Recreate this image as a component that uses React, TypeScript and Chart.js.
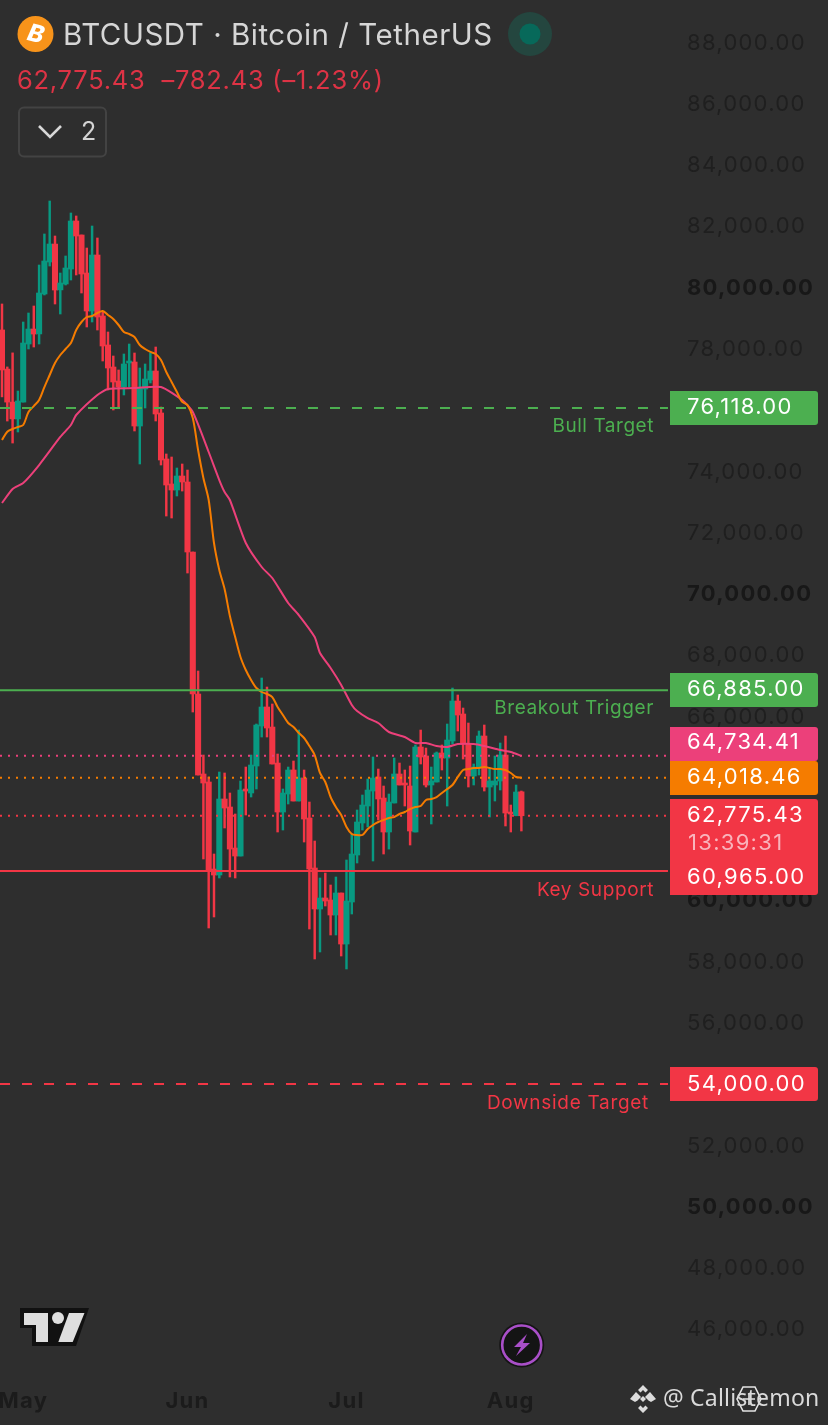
import React, { useEffect, useRef } from "react";
import { Chart, registerables } from "chart.js";

Chart.register(...registerables);

// Daily candles, May to early Aug (day 4 = 1 May, day 35 = 1 Jun, day 65 = 1 Jul, day 96 = 1 Aug)
const opens = [78670,77390,76310,75760,76310,78210,78700,78540,79846,80893,81480,79980,80174,80664,82235,81777,80533,79290,81122,79127,78178,77458,77000,76803,77589,77621,75527,76738,77032,77327,75953,74448,73630,73433,73891,73695,71405,66758,64141,63879,61032,60836,63323,63061,61719,61457,63650,63519,64402,65711,66333,65678,64500,62897,63486,64272,63257,64010,62701,61065,59724,60084,60018,59527,60247,58578,59952,61490,62537,63093,63584,64043,63355,62243,63192,64141,63846,63748,62243,65024,64730,63781,63879,64828,64664,65220,66529,66104,65122,64075,64369,65384,63715,63781,63912,64762,62897,62775,63558];
const highs = [79520,77460,77920,76672,78930,79225,79454,80795,81810,82889,81744,80533,81090,82497,82399,81777,81351,82071,81679,79258,78603,77818,77360,77883,78210,77916,77425,77556,77916,78112,76149,74612,74513,74153,74284,74087,71405,67511,64762,64043,61523,64206,64174,63519,62832,63912,64369,64762,65777,67282,66987,66431,64795,63650,64369,64566,65580,64272,63224,61948,60738,60901,60509,60771,60247,61327,62177,62963,63453,63977,64697,64304,63748,63486,64664,64500,64272,64402,65090,65580,64991,64369,64861,65090,65777,66954,66726,66300,65809,64468,65548,65744,64337,64730,65155,65384,63126,63781,63584];
const lows = [76480,75690,74970,75331,76310,78047,78112,78210,79814,80762,79519,79192,80141,80304,80468,79879,78767,78930,78668,77654,76705,76051,76116,76542,76803,75364,74284,76116,76934,75691,74251,72582,72517,73237,73400,70717,66169,64108,61360,59102,59462,60738,62374,60771,60738,61457,62799,63388,63650,65351,65351,64468,62243,62308,63159,63257,63257,61915,59069,58088,58317,59822,58873,58873,58186,57761,59560,61229,62308,62407,61294,62636,61523,61685,63192,63781,63093,61817,62243,64468,63715,62505,63879,64272,63093,65122,65548,64631,63715,63781,64108,63584,62734,63257,63617,62440,62243,62775,62276];
const closes = [77360,76310,75760,76345,78243,78701,78537,79879,80926,81482,79977,80206,80697,82235,81744,80501,79290,81122,79094,78145,77425,76967,76803,77556,77654,75527,76770,77065,77327,75920,74415,73597,73433,73891,73695,71405,66758,64108,63846,60999,60836,63323,63028,61685,61457,63617,63584,64435,65744,66333,65646,64468,62897,63519,64272,63257,64010,62668,61032,59724,60084,59985,59527,60247,58578,59985,61523,62570,63126,63617,64010,63323,62243,63224,64141,63781,63781,62276,65024,64697,63781,63912,64828,64664,65253,66529,66071,65122,64075,64369,65384,63715,63912,63912,64762,62865,62832,63551,62775];

const orangeMA = [75070,75340,75430,75495,75560,75985,76180,76378,76800,77196,77590,77850,78047,78243,78670,78930,79094,79127,79225,79290,79160,79030,78832,78603,78537,78440,78178,78047,77950,77883,77687,77294,76967,76640,76313,76215,75789,74742,73826,73106,71700,70816,70194,69310,68623,67969,67543,67216,66954,66824,66758,66660,66333,66071,65809,65678,65482,65319,65057,64762,64174,63879,63388,63061,62799,62407,62177,62145,62145,62341,62472,62570,62636,62701,62734,62832,62897,62995,63061,63093,63290,63323,63388,63519,63650,63781,64043,64272,64304,64337,64337,64369,64337,64304,64304,64272,64174,64043,64018];
const pinkDays = [0,2,4,7,11,13,14,18,20,25,30,34,36,39,41,42,43,46,49,51,54,56,59,60,62,64,66,67,69,71,73,76,78,80,82,84,86,89,91,94,96,98];
const pinkMA = [73008,73466,73662,74251,75168,75560,75887,76542,76738,76770,76803,76378,75985,74677,73760,73368,73106,71700,70914,70554,69736,69343,68623,68100,67609,67053,66399,66203,65973,65809,65515,65351,65155,65155,65057,65024,65122,65122,65057,64926,64861,64734];

const priceTicks = [88000,86000,84000,82000,80000,78000,76000,74000,72000,70000,68000,66000,64000,62000,60000,58000,56000,54000,52000,50000,48000,46000];
const roundTicks = [80000,70000,60000,50000];
const monthDays = [4,35,65,96];
const monthNames = ["May","Jun","Jul","Aug"];

const bullTarget = 76118;
const breakoutTrigger = 66885;
const keySupport = 60965;
const downsideTarget = 54000;
const lastPrice = 62775.43;
const pinkLast = 64734.41;
const orangeLast = 64018.46;

const UP = "#089981";
const DOWN = "#F23645";
const GREEN = "#4CAF50";
const PINK = "#EC407A";
const ORANGE = "#F57C00";
const BG = "#2E2E2E";
const FONT = "Inter, 'Noto Sans', sans-serif";

const X_MIN = -0.377;
const X_MAX = 126.04;
const LINE_END = 125.66;

const fmt = (v: number) =>
  v.toLocaleString("en-US", { minimumFractionDigits: 2, maximumFractionDigits: 2 });

const hline = (value: number, color: string, dash: number[]) => ({
  type: "line" as const,
  data: [{ x: X_MIN, y: value }, { x: LINE_END, y: value }],
  borderColor: color,
  borderWidth: 2,
  borderDash: dash,
  pointRadius: 0,
  order: 0,
  yAxisID: "y",
});

const overlay: any = {
  id: "overlay",
  beforeDraw(chart: any) {
    chart.ctx.letterSpacing = "1.3px";
  },
  afterDraw(chart: any) {
    const ctx = chart.ctx;
    const badge = (top: number, bottom: number, color: string) => {
      ctx.fillStyle = color;
      ctx.beginPath();
      ctx.roundRect(670, top, 148, bottom - top, [0, 3, 3, 0]);
      ctx.fill();
    };
    const text = (s: string, x: number, y: number, color: string, font: string, align: CanvasTextAlign, spacing: string) => {
      ctx.save();
      ctx.fillStyle = color;
      ctx.font = font;
      ctx.textAlign = align;
      ctx.textBaseline = "middle";
      ctx.letterSpacing = spacing;
      ctx.fillText(s, x, y);
      ctx.restore();
    };
    const priceFont = `22px ${FONT}`;
    const noteFont = `19px ${FONT}`;
    badge(391, 425, GREEN);
    badge(673, 707, GREEN);
    badge(727, 761, PINK);
    badge(761, 795, ORANGE);
    badge(799, 895, DOWN);
    badge(1067, 1101, DOWN);
    const rows: [number, number][] = [
      [bullTarget, 407],
      [breakoutTrigger, 689],
      [pinkLast, 742],
      [orangeLast, 777],
      [lastPrice, 815],
      [keySupport, 877],
      [downsideTarget, 1084],
    ];
    rows.forEach(([v, y]) => text(fmt(v), 687, y, "#FFFFFF", priceFont, "left", "1.3px"));
    text("13:39:31", 688, 843, "#F9B4BC", priceFont, "left", "1.3px");
    text("Bull Target", 654, 426, GREEN, noteFont, "right", "0.55px");
    text("Breakout Trigger", 654, 708, GREEN, noteFont, "right", "0.6px");
    text("Key Support", 654, 890, DOWN, noteFont, "right", "0.6px");
    text("Downside Target", 649, 1103, DOWN, noteFont, "right", "0.7px");
  },
};

export default function App() {
  const ref = useRef<HTMLCanvasElement>(null);
  useEffect(() => {
    document.body.style.margin = "0";
    document.body.style.background = BG;
    const days = opens.map((_, i) => i);
    const chart = new Chart(ref.current!, {
      type: "bar",
      plugins: [overlay],
      data: {
        datasets: [
          hline(bullTarget, GREEN, [10, 12]),
          hline(breakoutTrigger, GREEN, []),
          hline(pinkLast, PINK, [2, 6]),
          hline(orangeLast, ORANGE, [2, 6]),
          hline(lastPrice, DOWN, [2, 6]),
          hline(keySupport, DOWN, []),
          hline(downsideTarget, DOWN, [10, 12]),
          {
            type: "line",
            label: "EMA 20",
            data: days.map((d) => ({ x: d, y: orangeMA[d] })),
            borderColor: ORANGE,
            borderWidth: 2,
            pointRadius: 0,
            tension: 0.3,
            order: 1,
            yAxisID: "y",
          },
          {
            type: "line",
            label: "EMA 50",
            data: pinkDays.map((d, i) => ({ x: d, y: pinkMA[i] })),
            borderColor: PINK,
            borderWidth: 2,
            pointRadius: 0,
            tension: 0.2,
            order: 1,
            yAxisID: "y",
          },
          {
            type: "bar",
            label: "Body",
            data: days.map((d) => ({ x: d, y: [opens[d], closes[d]] })),
            backgroundColor: days.map((d) => (closes[d] >= opens[d] ? UP : DOWN)),
            barThickness: 5.4,
            grouped: false,
            order: 2,
            yAxisID: "y",
          },
          {
            type: "bar",
            label: "Wick",
            data: days.map((d) => ({ x: d, y: [lows[d], highs[d]] })),
            backgroundColor: days.map((d) => (closes[d] >= opens[d] ? UP : DOWN)),
            barThickness: 1.8,
            grouped: false,
            order: 3,
            yAxisID: "y",
          },
        ] as any,
      },
      options: {
        animation: false,
        responsive: false,
        devicePixelRatio: 1,
        layout: { padding: 0, autoPadding: false },
        plugins: { legend: { display: false }, tooltip: { enabled: false } },
        scales: {
          x: {
            type: "linear",
            offset: false,
            min: X_MIN,
            max: X_MAX,
            grid: { display: false, drawTicks: false },
            border: { display: false },
            afterBuildTicks: (s: any) => {
              s.ticks = monthDays.map((value) => ({ value }));
            },
            afterFit: (s: any) => {
              s.height = 55;
              s.paddingLeft = 0;
              s.paddingRight = 0;
            },
            ticks: {
              autoSkip: false,
              maxRotation: 0,
              padding: 18,
              color: "#1B1B1B",
              font: { family: FONT, size: 22, weight: "bold" },
              callback: (v: any) => monthNames[monthDays.indexOf(v)],
            },
          },
          y: {
            type: "linear",
            position: "right",
            display: false,
            min: 44640,
            max: 89466,
          },
          priceAxis: {
            type: "linear",
            position: "right",
            min: 44686,
            max: 89403,
            grid: { display: false, drawTicks: false },
            border: { display: false },
            afterBuildTicks: (s: any) => {
              s.ticks = priceTicks.map((value) => ({ value }));
            },
            afterFit: (s: any) => {
              s.width = 158;
              s.paddingTop = 0;
              s.paddingBottom = 0;
            },
            ticks: {
              autoSkip: false,
              padding: 17,
              color: (c: any) => (roundTicks.includes(c.tick?.value) ? "#181818" : "#1F1F1F"),
              font: (c: any) => ({
                family: FONT,
                size: 22,
                weight: roundTicks.includes(c.tick?.value) ? "bold" : "normal",
              }),
              callback: (v: any) => fmt(v),
            },
          },
        },
      } as any,
    });
    return () => chart.destroy();
  }, []);

  const abs = (o: React.CSSProperties): React.CSSProperties => ({
    position: "absolute",
    whiteSpace: "nowrap",
    fontFamily: FONT,
    lineHeight: 1,
    ...o,
  });

  return (
    <div style={{ position: "relative", width: 828, height: 1425, overflow: "hidden", background: BG }}>
      <canvas ref={ref} width={828} height={1425} style={{ display: "block", width: 828, height: 1425 }} />
      <svg width={828} height={1425} style={{ position: "absolute", left: 0, top: 0 }}>
        <circle cx={35.5} cy={34} r={18} fill="#F7931A" />
        <circle cx={530} cy={34} r={22} fill="#24463F" />
        <circle cx={530} cy={34} r={10.5} fill="#07695A" />
        <rect x={19} y={107.5} width={87} height={49} rx={5} fill="none" stroke="#434343" strokeWidth={2} />
        <path d="M39 126 L50 137 L61 126" fill="none" stroke="#D8D8D8" strokeWidth={2.6} />
        <path d="M20 1308 H89 L76 1346 H32 V1328 H20 Z" fill="#111111" />
        <path d="M24 1313 H48 V1342 H36 V1325 H24 Z" fill="#DEDEDE" />
        <circle cx={58} cy={1318} r={6} fill="#DEDEDE" />
        <path d="M69 1313 H84.5 L72.7 1342 H58.3 Z" fill="#DEDEDE" />
        <circle cx={521.7} cy={1345} r={22.5} fill="#141414" />
        <circle cx={521.7} cy={1345} r={19.5} fill="#141414" stroke="#A94FC8" strokeWidth={2.6} />
        <path d="M527 1334 L514 1347 H521 L516 1356 L530 1343 H523 Z" fill="#A94FC8" />
        <g fill="#DCDCDC">
          <path d="M643 1385 L648 1390 L645.5 1392.5 L643 1390 L640.5 1392.5 L638 1390 Z" />
          <path d="M643 1413 L648 1408 L645.5 1405.5 L643 1408 L640.5 1405.5 L638 1408 Z" />
          <path d="M636 1392 L641 1397 L637.5 1400.5 L635 1402 L630 1399 Z" />
          <path d="M650 1392 L645 1397 L648.5 1400.5 L651 1402 L656 1399 Z" />
          <path d="M643 1396 L646 1399 L643 1402 L640 1399 Z" />
        </g>
        <path d="M743 1387 H755 L761 1399 L755 1411 H743 L737 1399 Z" fill="none" stroke="#E4E4E4" strokeWidth={1.6} />
        <path d="M749 1393 V1405 M743 1399 H755" stroke="#E4E4E4" strokeWidth={1.6} />
      </svg>
      <div style={abs({ left: 35.5, top: 34, transform: "translate(-50%,-50%) rotate(14deg)", color: "#FFF", fontSize: 24, fontWeight: 800, fontStyle: "italic" })}>B</div>
      <div style={abs({ left: 63, top: 20, color: "#D6D6D6", fontSize: 29.5, letterSpacing: 0.52 })}>BTCUSDT · Bitcoin / TetherUS</div>
      <div style={abs({ left: 17, top: 67, color: "#DD3345", fontSize: 25.5, letterSpacing: 0.75, whiteSpace: "pre" })}>62,775.43  –782.43 (–1.23%)</div>
      <div style={abs({ left: 81, top: 119, color: "#D4D4D4", fontSize: 25 })}>2</div>
      <div style={abs({ left: 663, top: 1386, color: "#DADADA", fontSize: 23, fontFamily: "'Noto Sans', sans-serif", letterSpacing: 0.2 })}>@ Callistemon</div>
    </div>
  );
}
